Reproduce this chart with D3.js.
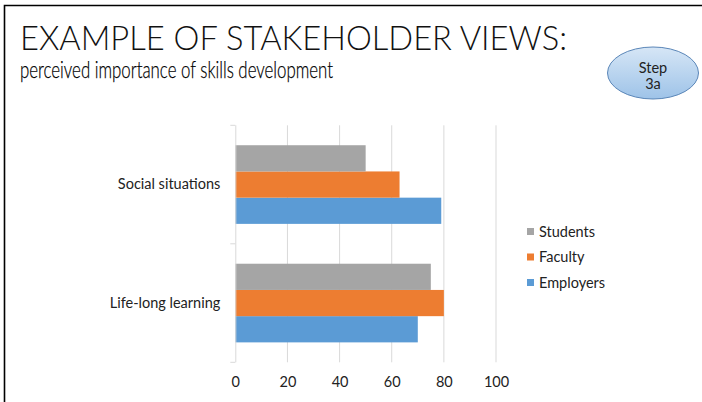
<!DOCTYPE html>
<html>
<head>
<meta charset="utf-8">
<script src="https://cdn.jsdelivr.net/npm/d3@7"></script>
<style>
  html, body { margin: 0; padding: 0; background: #fff; }
  svg { display: block; font-family: Lato, "Open Sans", sans-serif; }
</style>
</head>
<body>
<div id="chart-container"></div>
<script>
// categories listed bottom-up, as the chart shows them
const categories = ["Life-long learning", "Social situations"];
const seriesNames = ["Employers", "Faculty", "Students"];
const employers = [70, 79];
const faculty = [80, 63];
const students = [75, 50];
const xTicks = [0, 20, 40, 60, 80, 100];
const colors = ["#5b9bd5", "#ed7d31", "#a5a5a5"];

const width = 702;
const height = 402;
const labelFont = 14.5;

const svg = d3.select("#chart-container").append("svg")
    .attr("width", width)
    .attr("height", height);

// slide frame (top and left edges only)
svg.append("path")
    .attr("d", `M4.5,${height} V5.5 H${width}`)
    .attr("fill", "none")
    .attr("stroke", "#000")
    .attr("stroke-width", 1.6);

svg.append("text")
    .attr("x", 20).attr("y", 49.5)
    .attr("font-size", 34)
    .attr("font-weight", 300)
    .attr("fill", "#111")
    .attr("textLength", 547)
    .attr("lengthAdjust", "spacingAndGlyphs")
    .text("EXAMPLE OF STAKEHOLDER VIEWS:");

svg.append("text")
    .attr("x", 20).attr("y", 78)
    .attr("font-size", 24)
    .attr("font-weight", 300)
    .attr("fill", "#000")
    .attr("stroke", "#000")
    .attr("stroke-width", 0.25)
    .attr("textLength", 313)
    .attr("lengthAdjust", "spacingAndGlyphs")
    .text("perceived importance of skills development");

// "Step 3a" badge
const defs = svg.append("defs");
const grad = defs.append("linearGradient")
    .attr("id", "badge").attr("x1", 0).attr("y1", 0).attr("x2", 0).attr("y2", 1);
grad.append("stop").attr("offset", "0%").attr("stop-color", "#d6e6f6");
grad.append("stop").attr("offset", "100%").attr("stop-color", "#9ec3e8");

svg.append("ellipse")
    .attr("cx", 653).attr("cy", 73)
    .attr("rx", 45.5).attr("ry", 26)
    .attr("fill", "url(#badge)")
    .attr("stroke", "#5a86b8")
    .attr("stroke-width", 1);

svg.append("text")
    .attr("x", 653).attr("y", 72.5)
    .attr("text-anchor", "middle")
    .attr("font-size", 14.5)
    .attr("fill", "#222")
    .text("Step");
svg.append("text")
    .attr("x", 653).attr("y", 88.5)
    .attr("text-anchor", "middle")
    .attr("font-size", 14.5)
    .attr("fill", "#222")
    .text("3a");

// chart
const plot = { left: 235.3, right: 496, top: 125.3, bottom: 362.3 };

const x = d3.scaleLinear()
    .domain([0, 100])
    .range([plot.left, plot.right]);

const y = d3.scaleBand()
    .domain(categories)
    .range([plot.bottom, plot.top]);

const yInner = d3.scaleBand()
    .domain(seriesNames)
    .range([y.bandwidth(), 0])
    .paddingOuter(0.76)
    .paddingInner(0);

// vertical gridlines
svg.append("g")
    .selectAll("line")
    .data(xTicks.slice(1))
    .join("line")
    .attr("x1", d => x(d)).attr("x2", d => x(d))
    .attr("y1", plot.top).attr("y2", plot.bottom)
    .attr("stroke", "#d9d9d9")
    .attr("stroke-width", 1);

// x tick labels
svg.append("g")
    .attr("transform", `translate(0,${plot.bottom})`)
    .call(d3.axisBottom(x).tickValues(xTicks).tickSize(0).tickPadding(14))
    .call(g => g.select(".domain").remove())
    .call(g => g.selectAll("text")
        .attr("font-family", "Lato, 'Open Sans', sans-serif")
        .attr("font-size", labelFont)
        .attr("fill", "#222"));

// bars
const table = categories.map((c, i) => ({
    category: c,
    values: [employers[i], faculty[i], students[i]]
}));

const groups = svg.append("g")
    .selectAll("g")
    .data(table)
    .join("g")
    .attr("transform", d => `translate(0,${y(d.category)})`);

groups.selectAll("rect")
    .data(d => d.values.map((v, j) => ({ name: seriesNames[j], value: v, color: colors[j] })))
    .join("rect")
    .attr("x", x(0))
    .attr("y", d => yInner(d.name))
    .attr("width", d => x(d.value) - x(0))
    .attr("height", yInner.bandwidth())
    .attr("fill", d => d.color);

// y axis with category boundary ticks
svg.append("g")
    .attr("transform", `translate(${plot.left},0)`)
    .call(d3.axisLeft(y).tickSize(0).tickPadding(15))
    .call(g => g.select(".domain").attr("stroke", "#d9d9d9").attr("d", `M0.5,${plot.top}V${plot.bottom}`))
    .call(g => g.selectAll("text")
        .attr("font-family", "Lato, 'Open Sans', sans-serif")
        .attr("font-size", labelFont)
        .attr("fill", "#222"));

svg.append("g")
    .selectAll("line")
    .data([plot.top, y(categories[1]) + y.bandwidth(), plot.bottom])
    .join("line")
    .attr("x1", plot.left - 5).attr("x2", plot.left)
    .attr("y1", d => d).attr("y2", d => d)
    .attr("stroke", "#d9d9d9");

// legend, top to bottom: Students, Faculty, Employers
const legendItems = seriesNames.map((n, j) => ({ name: n, color: colors[j] })).reverse();
const legend = svg.append("g")
    .selectAll("g")
    .data(legendItems)
    .join("g")
    .attr("transform", (d, i) => `translate(527,${231.5 + i * 25.5})`);

legend.append("rect")
    .attr("x", 0).attr("y", -3.5)
    .attr("width", 7).attr("height", 7)
    .attr("fill", d => d.color);

legend.append("text")
    .attr("x", 12).attr("y", 0)
    .attr("dy", "0.35em")
    .attr("font-size", labelFont)
    .attr("fill", "#222")
    .text(d => d.name);
</script>
</body>
</html>
